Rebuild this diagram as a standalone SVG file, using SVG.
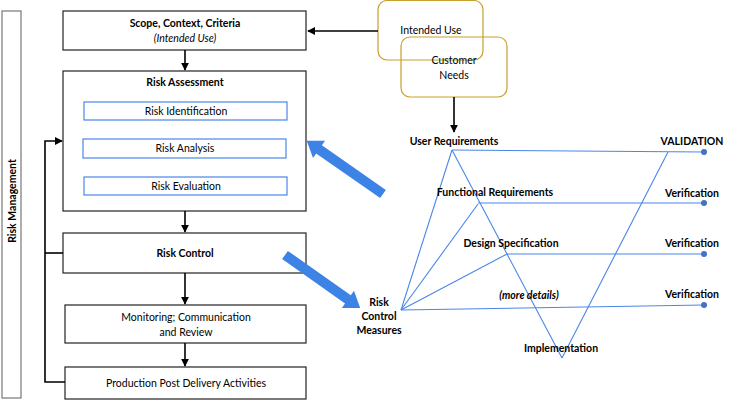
<svg xmlns="http://www.w3.org/2000/svg" width="754" height="400" viewBox="0 0 754 400">
<defs>
<style>
.box{fill:#fff;stroke:#222;stroke-width:1.2}
.sub{fill:#fff;stroke:#4a86e8;stroke-width:1.2}
.gold{fill:none;stroke:#c9a02c;stroke-width:1.2}
.t{font-family:Lato,"Liberation Sans",sans-serif;font-size:10.5px;fill:#000;text-anchor:middle}
.b{font-weight:bold}
.i{font-style:italic}
.conn{stroke:#000;stroke-width:1.6;fill:none}
.v{stroke:#4a86e8;stroke-width:1.1;fill:none}
.dot{fill:#4472c4}
.blk{fill:#3d83e6}
</style>
<marker id="ah" viewBox="0 0 10 10" refX="9" refY="5" markerWidth="5" markerHeight="5" orient="auto">
<path d="M0,0 L10,5 L0,10 z" fill="#000"/>
</marker>
</defs>
<rect width="754" height="400" fill="#fff"/>

<g id="risk-management">
<rect x="2" y="11" width="19" height="387" fill="#fff" stroke="#777" stroke-width="1.2"/>
<text class="t b" transform="translate(15.5,201) rotate(-90)">Risk Management</text>
</g>

<g id="scope">
<rect class="box" x="63" y="11" width="243" height="39"/>
<text class="t b" x="185" y="27">Scope, Context, Criteria</text>
<text class="t i" x="185" y="42">(Intended Use)</text>
</g>

<g id="risk-assessment">
<rect class="box" x="63" y="71" width="243" height="140"/>
<text class="t b" x="185" y="86">Risk Assessment</text>
</g>
<g id="risk-identification">
<rect class="sub" x="84" y="102" width="203" height="18"/>
<text class="t" x="186" y="115">Risk Identification</text>
</g>
<g id="risk-analysis">
<rect class="sub" x="83" y="139" width="203" height="19"/>
<text class="t" x="185" y="152">Risk Analysis</text>
</g>
<g id="risk-evaluation">
<rect class="sub" x="84" y="177" width="203" height="18"/>
<text class="t" x="186" y="190">Risk Evaluation</text>
</g>

<g id="risk-control">
<rect class="box" x="63" y="233" width="243" height="40"/>
<text class="t b" x="185" y="257">Risk Control</text>
</g>

<g id="monitoring">
<rect class="box" x="65" y="305" width="241" height="38"/>
<text class="t" x="186" y="321">Monitoring; Communication</text>
<text class="t" x="186" y="336">and Review</text>
</g>

<g id="production">
<rect class="box" x="65" y="367" width="241" height="32"/>
<text class="t" x="186" y="387">Production Post Delivery Activities</text>
</g>

<g id="intended-use">
<rect class="gold" x="378" y="0.5" width="105" height="59.5" rx="9"/>
<text class="t" x="431" y="34">Intended Use</text>
</g>
<g id="customer-needs">
<rect class="gold" x="401" y="37" width="106" height="60" rx="9"/>
<text class="t" x="454" y="64">Customer</text>
<text class="t" x="454" y="79">Needs</text>
</g>

<g id="connectors">
<line class="conn" x1="378" y1="31" x2="308" y2="31" marker-end="url(#ah)"/>
<line class="conn" x1="454" y1="97" x2="454" y2="132" marker-end="url(#ah)"/>
<line class="conn" x1="185" y1="50" x2="185" y2="70" marker-end="url(#ah)"/>
<line class="conn" x1="185" y1="211" x2="185" y2="232" marker-end="url(#ah)"/>
<line class="conn" x1="185" y1="273" x2="185" y2="304" marker-end="url(#ah)"/>
<line class="conn" x1="185" y1="343" x2="185" y2="366" marker-end="url(#ah)"/>
<polyline class="conn" points="65,382 45,382 45,141 62,141" marker-end="url(#ah)"/>
<line class="conn" x1="45" y1="253" x2="63" y2="253"/>

<polygon class="blk" transform="translate(383,194) rotate(214.9)" points="0,-5 78,-5 78,-10.5 93,0 78,10.5 78,5 0,5"/>
<polygon class="blk" transform="translate(285,255) rotate(35.2)" points="0,-5 77,-5 77,-10.5 92,0 77,10.5 77,5 0,5"/>

<line class="v" x1="452" y1="150" x2="704" y2="152"/>
<line class="v" x1="478" y1="203" x2="704" y2="203"/>
<line class="v" x1="507" y1="254" x2="704" y2="254"/>
<line class="v" x1="401" y1="310" x2="704" y2="305"/>
<line class="v" x1="452" y1="150" x2="562" y2="358"/>
<line class="v" x1="562" y1="358" x2="668" y2="152"/>
<line class="v" x1="401" y1="310" x2="452" y2="150"/>
<line class="v" x1="401" y1="310" x2="478" y2="204"/>
<line class="v" x1="401" y1="310" x2="507" y2="254"/>
<circle class="dot" cx="704" cy="152" r="3"/>
<circle class="dot" cx="704" cy="203" r="3"/>
<circle class="dot" cx="704" cy="254" r="3"/>
<circle class="dot" cx="704" cy="305" r="3"/>
</g>

<g id="labels">
<text class="t b" x="454" y="145">User Requirements</text>
<text class="t b" x="692" y="145">VALIDATION</text>
<text class="t b" x="495" y="196">Functional Requirements</text>
<text class="t b" x="692" y="197">Verification</text>
<text class="t b" x="511" y="247">Design Specification</text>
<text class="t b" x="692" y="247">Verification</text>
<text class="t b i" x="529" y="299">(more details)</text>
<text class="t b" x="692" y="298">Verification</text>
<text class="t b" x="379" y="306">Risk</text>
<text class="t b" x="379" y="320">Control</text>
<text class="t b" x="379" y="334">Measures</text>
<text class="t b" x="561" y="352">Implementation</text>
</g>
</svg>
